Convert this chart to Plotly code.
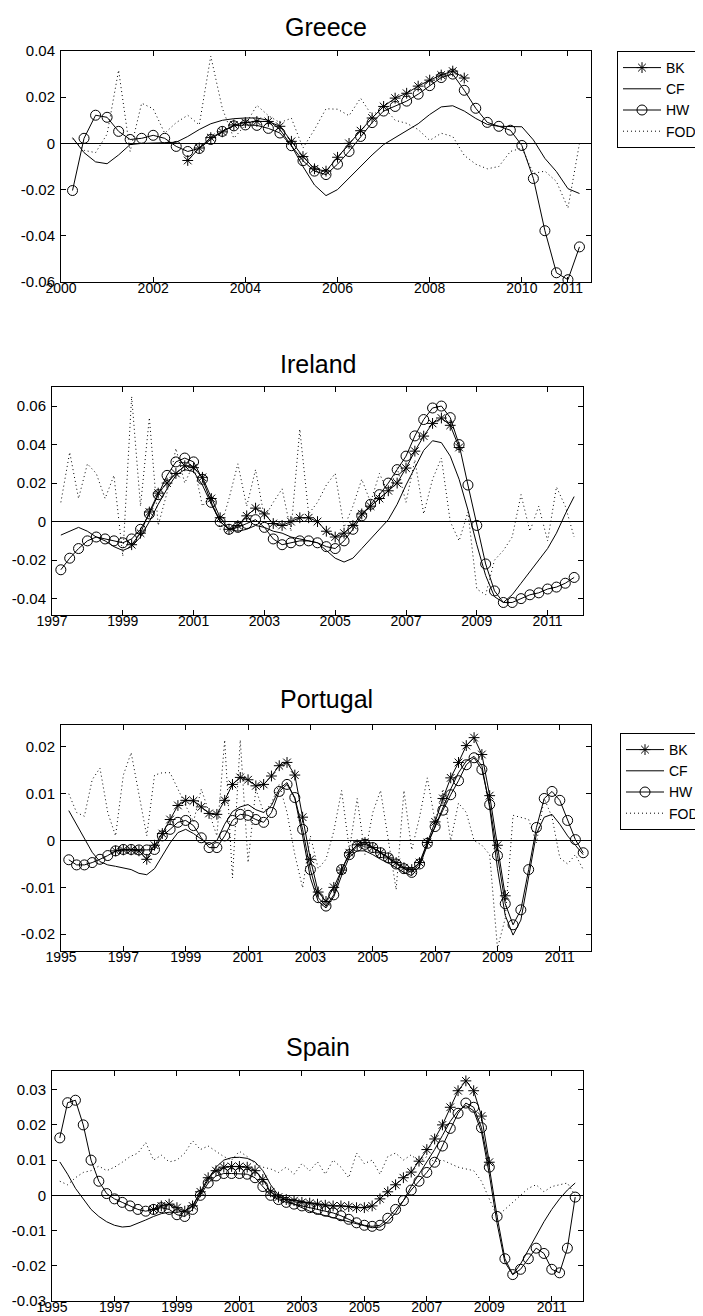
import plotly.graph_objects as go

W, H = 703, 1316

# ---------------- data (quarterly) ----------------
greece_start = 2000.25
greece_bk_start = 2002.75
greece_hw = [-0.0204, 0.0022, 0.0122, 0.0113, 0.0052, 0.0017, 0.0022, 0.0035, 0.0022, -0.0013,
             -0.0035, -0.0022, 0.0017, 0.0052, 0.0076, 0.0080, 0.0078, 0.0065, 0.0045, -0.0010,
             -0.0075, -0.0120, -0.0135, -0.0090, -0.0035, 0.0030, 0.0090, 0.0140, 0.0160, 0.0183,
             0.0213, 0.0250, 0.0285, 0.0300, 0.0230, 0.0152, 0.0091, 0.0074, 0.0057, -0.0009,
             -0.0152, -0.0378, -0.0560, -0.0590, -0.0448]
greece_bk = [-0.0074, -0.0020, 0.0025, 0.0050, 0.0080, 0.0090, 0.0095, 0.0095, 0.0074, 0.0009,
             -0.0057, -0.0110, -0.0120, -0.0060, 0.0000, 0.0055, 0.0110, 0.0160, 0.0196, 0.0217,
             0.0248, 0.0274, 0.0296, 0.0313, 0.0283]
greece_cf = [0.0025, -0.0040, -0.0080, -0.0088, -0.0050, -0.0005, 0.0000, 0.0000, 0.0003, 0.0005,
             0.0030, 0.0060, 0.0085, 0.0100, 0.0107, 0.0110, 0.0110, 0.0100, 0.0060, -0.0010,
             -0.0100, -0.0180, -0.0226, -0.0200, -0.0150, -0.0100, -0.0050, -0.0005, 0.0025, 0.0055,
             0.0085, 0.0125, 0.0158, 0.0163, 0.0140, 0.0108, 0.0082, 0.0074, 0.0074, 0.0072,
             0.0015, -0.0065, -0.0122, -0.0196, -0.0217]
greece_fod = [0.0020, -0.0030, -0.0040, 0.0040, 0.0317, -0.0035, 0.0174, 0.0150, 0.0044, 0.0090,
              0.0122, 0.0080, 0.0378, 0.0152, 0.0022, 0.0080, 0.0165, 0.0120, 0.0090, 0.0109,
              -0.0020, 0.0060, 0.0150, 0.0148, 0.0120, 0.0196, 0.0120, 0.0160, 0.0100, 0.0087,
              0.0060, 0.0013, 0.0044, 0.0030, -0.0052, -0.0090, -0.0110, -0.0100, -0.0035, -0.0020,
              -0.0130, -0.0120, -0.0165, -0.0280, 0.0000]

ireland_start = 1997.25
ireland_bk_start = 1999.25
ireland_hw = [-0.0250, -0.0190, -0.0140,
              -0.0100, -0.0080, -0.0090, -0.0100,
              -0.0110, -0.0090, -0.0040, 0.0040,
              0.0140, 0.0240, 0.0310, 0.0330,
              0.0310, 0.0220, 0.0100, 0.0000,
              -0.0040, -0.0030, -0.0010, 0.0010,
              -0.0030, -0.0090, -0.0120, -0.0110,
              -0.0100, -0.0100, -0.0110, -0.0130,
              -0.0140, -0.0100, -0.0040, 0.0030,
              0.0090, 0.0140, 0.0200, 0.0270,
              0.0340, 0.0445, 0.0530, 0.0590,
              0.0600, 0.0540, 0.0400, 0.0190,
              -0.0020, -0.0220, -0.0360, -0.0420,
              -0.0420, -0.0400, -0.0380, -0.0370,
              -0.0350, -0.0340, -0.0320, -0.0290]
ireland_bk = [-0.0120, -0.0060, 0.0050,
              0.0148, 0.0200, 0.0250, 0.0290,
              0.0280, 0.0230, 0.0120, 0.0020,
              -0.0040, -0.0020, 0.0030, 0.0070,
              0.0040, -0.0010, -0.0020, 0.0000,
              0.0020, 0.0020, 0.0000, -0.0050,
              -0.0080, -0.0060, -0.0020, 0.0040,
              0.0080, 0.0120, 0.0160, 0.0200,
              0.0278, 0.0366, 0.0444, 0.0510,
              0.0538, 0.0500, 0.0385]
ireland_cf = [-0.0070, -0.0050, -0.0030,
              -0.0050, -0.0080, -0.0100, -0.0130,
              -0.0150, -0.0130, -0.0080, 0.0000,
              0.0090, 0.0170, 0.0240, 0.0270,
              0.0260, 0.0190, 0.0090, 0.0000,
              -0.0040, -0.0050, -0.0040, -0.0020,
              -0.0030, -0.0050, -0.0060, -0.0080,
              -0.0090, -0.0100, -0.0110, -0.0150,
              -0.0190, -0.0210, -0.0190, -0.0140,
              -0.0090, -0.0040, 0.0010, 0.0090,
              0.0190, 0.0280, 0.0370, 0.0420,
              0.0410, 0.0340, 0.0220, 0.0060,
              -0.0120, -0.0280, -0.0390, -0.0420,
              -0.0380, -0.0320, -0.0260, -0.0200,
              -0.0140, -0.0060, 0.0040, 0.0130]
ireland_fod = [0.0100, 0.0360, 0.0120,
               0.0300, 0.0250, 0.0120, 0.0240,
               -0.0180, 0.0650, 0.0080, 0.0540,
               -0.0020, 0.0150, 0.0380, 0.0200,
               0.0300, 0.0080, 0.0140, -0.0040,
               0.0120, 0.0300, 0.0080, 0.0270,
               0.0020, 0.0100, 0.0170, -0.0050,
               0.0480, 0.0040, 0.0100, 0.0190,
               0.0250, -0.0030, 0.0080, 0.0220,
               0.0100, 0.0250, 0.0150, 0.0280,
               0.0100, 0.0320, 0.0040, 0.0220,
               0.0330, 0.0000, -0.0100, 0.0050,
               -0.0350, -0.0380, -0.0200, -0.0150,
               -0.0080, 0.0140, -0.0050, 0.0080,
               -0.0100, 0.0180, 0.0080, -0.0080]

portugal_start = 1995.25
portugal_bk_start = 1996.75
portugal_hw = [-0.0041, -0.0052, -0.0052,
               -0.0047, -0.0040, -0.0032, -0.0022,
               -0.0019, -0.0019, -0.0020, -0.0020,
               -0.0019, 0.0010, 0.0024, 0.0039,
               0.0043, 0.0032, 0.0006, -0.0015,
               -0.0015, 0.0010, 0.0043, 0.0056,
               0.0054, 0.0045, 0.0039, 0.0060,
               0.0105, 0.0120, 0.0092, 0.0024,
               -0.0062, -0.0122, -0.0140, -0.0116,
               -0.0062, -0.0030, -0.0012, -0.0008,
               -0.0015, -0.0026, -0.0037, -0.0050,
               -0.0060, -0.0068, -0.0050, -0.0006,
               0.0030, 0.0065, 0.0098, 0.0128,
               0.0162, 0.0177, 0.0152, 0.0077,
               -0.0032, -0.0135, -0.0180, -0.0148,
               -0.0062, 0.0028, 0.0090, 0.0105,
               0.0086, 0.0043, 0.0002, -0.0026]
portugal_bk = [-0.0022,
               -0.0020, -0.0020, -0.0022, -0.0040,
               -0.0010, 0.0015, 0.0045, 0.0075,
               0.0086, 0.0085, 0.0072, 0.0058,
               0.0056, 0.0086, 0.0120, 0.0135,
               0.0130, 0.0117, 0.0120, 0.0138,
               0.0160, 0.0167, 0.0140, 0.0050,
               -0.0040, -0.0110, -0.0130, -0.0100,
               -0.0063, -0.0026, -0.0009, -0.0004,
               -0.0015, -0.0026, -0.0037, -0.0047,
               -0.0058, -0.0062, -0.0047, -0.0004,
               0.0040, 0.0090, 0.0134, 0.0167,
               0.0203, 0.0220, 0.0184, 0.0096,
               -0.0010, -0.0118]
portugal_cf = [0.0064, 0.0035, 0.0005,
               -0.0025, -0.0045, -0.0052, -0.0055,
               -0.0058, -0.0062, -0.0070, -0.0073,
               -0.0060, -0.0033, -0.0005, 0.0017,
               0.0024, 0.0015, 0.0003, -0.0009,
               0.0000, 0.0035, 0.0062, 0.0072,
               0.0077, 0.0066, 0.0060, 0.0075,
               0.0110, 0.0124, 0.0090, 0.0010,
               -0.0080, -0.0130, -0.0144, -0.0120,
               -0.0075, -0.0035, -0.0022, -0.0022,
               -0.0030, -0.0040, -0.0048, -0.0058,
               -0.0068, -0.0075, -0.0055, -0.0010,
               0.0030, 0.0070, 0.0110, 0.0145,
               0.0170, 0.0180, 0.0160, 0.0070,
               -0.0060, -0.0160, -0.0202, -0.0170,
               -0.0080, 0.0015, 0.0050, 0.0056,
               0.0035, 0.0010, -0.0010, -0.0030]
portugal_fod = [0.0100, 0.0060, 0.0052,
                0.0130, 0.0155, 0.0060, 0.0010,
                0.0140, 0.0188, 0.0100, 0.0010,
                0.0140, 0.0145, 0.0145, 0.0110,
                0.0075, 0.0040, 0.0110, 0.0060,
                0.0010, 0.0215, -0.0080, 0.0215,
                -0.0047, 0.0110, 0.0060, 0.0080,
                0.0120, 0.0060, -0.0030, -0.0101,
                0.0010, -0.0060, -0.0040, 0.0020,
                0.0107, -0.0020, 0.0090, -0.0030,
                0.0060, 0.0107, 0.0000, -0.0105,
                0.0107, -0.0020, 0.0050, 0.0134,
                0.0040, 0.0110, 0.0000, 0.0080,
                0.0060, 0.0000, -0.0010, -0.0030,
                -0.0230, -0.0166, 0.0054, 0.0050,
                0.0045, -0.0005, 0.0090, 0.0050,
                -0.0037, -0.0050, -0.0030, -0.0062]

spain_start = 1995.25
spain_bk_start = 1998.25
spain_hw = [0.0163, 0.0263, 0.0270,
            0.0200, 0.0100, 0.0040, 0.0005,
            -0.0010, -0.0020, -0.0030, -0.0040,
            -0.0045, -0.0040, -0.0035, -0.0040,
            -0.0055, -0.0060, -0.0040, 0.0000,
            0.0035, 0.0055, 0.0062, 0.0062,
            0.0062, 0.0060, 0.0050, 0.0025,
            0.0000, -0.0012, -0.0020, -0.0025,
            -0.0030, -0.0035, -0.0040, -0.0045,
            -0.0050, -0.0058, -0.0068, -0.0078,
            -0.0085, -0.0088, -0.0085, -0.0065,
            -0.0040, -0.0015, 0.0015, 0.0040,
            0.0065, 0.0094, 0.0140, 0.0190,
            0.0233, 0.0262, 0.0250, 0.0192,
            0.0080, -0.0060, -0.0180, -0.0225,
            -0.0210, -0.0180, -0.0150, -0.0165,
            -0.0210, -0.0220, -0.0150, -0.0005]
spain_bk = [-0.0040, -0.0030, -0.0025,
            -0.0035, -0.0045, -0.0030, 0.0010,
            0.0050, 0.0070, 0.0080, 0.0082,
            0.0082, 0.0080, 0.0070, 0.0045,
            0.0010, -0.0005, -0.0012, -0.0015,
            -0.0020, -0.0022, -0.0025, -0.0028,
            -0.0030, -0.0030, -0.0032, -0.0035,
            -0.0035, -0.0030, -0.0010, 0.0010,
            0.0030, 0.0050, 0.0066, 0.0097,
            0.0130, 0.0160, 0.0200, 0.0250,
            0.0297, 0.0325, 0.0297, 0.0225,
            0.0094]
spain_cf = [0.0095, 0.0060, 0.0020,
            -0.0010, -0.0040, -0.0060, -0.0075,
            -0.0085, -0.0090, -0.0088, -0.0080,
            -0.0070, -0.0060, -0.0052, -0.0048,
            -0.0048, -0.0045, -0.0030, 0.0005,
            0.0045, 0.0080, 0.0100, 0.0107,
            0.0108, 0.0105, 0.0095, 0.0070,
            0.0030, 0.0000, -0.0015, -0.0025,
            -0.0035, -0.0045, -0.0052, -0.0058,
            -0.0063, -0.0070, -0.0075, -0.0082,
            -0.0088, -0.0092, -0.0090, -0.0075,
            -0.0050, -0.0015, 0.0025, 0.0060,
            0.0095, 0.0130, 0.0170, 0.0210,
            0.0240, 0.0255, 0.0240, 0.0180,
            0.0060, -0.0080, -0.0190, -0.0225,
            -0.0195, -0.0155, -0.0115, -0.0075,
            -0.0040, -0.0010, 0.0015, 0.0035]
spain_fod = [0.0040, 0.0030, 0.0050,
             0.0065, 0.0070, 0.0083, 0.0070,
             0.0080, 0.0094, 0.0110, 0.0120,
             0.0150, 0.0100, 0.0114, 0.0095,
             0.0100, 0.0120, 0.0155, 0.0130,
             0.0140, 0.0125, 0.0110, 0.0100,
             0.0125, 0.0110, 0.0090, 0.0080,
             0.0075, 0.0065, 0.0080, 0.0060,
             0.0090, 0.0070, 0.0095, 0.0060,
             0.0100, 0.0080, 0.0050, 0.0120,
             0.0090, 0.0100, 0.0060, 0.0110,
             0.0120, 0.0100, 0.0115, 0.0095,
             0.0110, 0.0095, 0.0100, 0.0090,
             0.0080, 0.0075, 0.0070, 0.0040,
             -0.0010, -0.0060, -0.0040, -0.0020,
             0.0000, 0.0020, 0.0030, 0.0010,
             0.0025, 0.0030, 0.0035, 0.0000]

series_names = ["BK", "CF", "HW", "FOD"]

greece_xticks = [2000, 2002, 2004, 2006, 2008, 2010, 2011]
odd_year_ticks = [1995, 1997, 1999, 2001, 2003, 2005, 2007, 2009, 2011]
ireland_xticks = [1997, 1999, 2001, 2003, 2005, 2007, 2009, 2011]
greece_yticks = [-0.06, -0.04, -0.02, 0, 0.02, 0.04]
ireland_yticks = [-0.04, -0.02, 0, 0.02, 0.04, 0.06]
portugal_yticks = [-0.02, -0.01, 0, 0.01, 0.02]
spain_yticks = [-0.03, -0.02, -0.01, 0, 0.01, 0.02, 0.03]


def qx(start, n):
    return [start + 0.25 * i for i in range(n)]


FONT = "Liberation Sans, Arial, sans-serif"

panels = [
    dict(name="Greece", start=greece_start, bk_start=greece_bk_start,
         bk=greece_bk, cf=greece_cf, hw=greece_hw, fod=greece_fod,
         xr=[2000, 2011.5], yr=[-0.06, 0.04], xt=greece_xticks, yt=greece_yticks,
         px=(53, 583), py=(43, 274), title_y=19, legend="legend"),
    dict(name="Ireland", start=ireland_start, bk_start=ireland_bk_start,
         bk=ireland_bk, cf=ireland_cf, hw=ireland_hw, fod=ireland_fod,
         xr=[1997, 2012], yr=[-0.0485, 0.0699], xt=ireland_xticks, yt=ireland_yticks,
         px=(44, 575), py=(379, 607), title_y=356, legend=None),
    dict(name="Portugal", start=portugal_start, bk_start=portugal_bk_start,
         bk=portugal_bk, cf=portugal_cf, hw=portugal_hw, fod=portugal_fod,
         xr=[1995, 2012], yr=[-0.0236, 0.0247], xt=odd_year_ticks, yt=portugal_yticks,
         px=(53, 583), py=(717, 943), title_y=691, legend="legend2"),
    dict(name="Spain", start=spain_start, bk_start=spain_bk_start,
         bk=spain_bk, cf=spain_cf, hw=spain_hw, fod=spain_fod,
         xr=[1995, 2012], yr=[-0.03, 0.0353], xt=odd_year_ticks, yt=spain_yticks,
         px=(44, 575), py=(1063, 1293), title_y=1039, legend=None),
]

fig = go.Figure()
layout = dict(
    width=W, height=H,
    margin=dict(l=0, r=0, t=0, b=0, autoexpand=False),
    paper_bgcolor="white", plot_bgcolor="white",
    font=dict(family=FONT, size=15, color="black"),
    annotations=[],
)


def ylabel(v):
    if v == 0:
        return "0"
    return "%.2f" % v


for i, p in enumerate(panels):
    k = "" if i == 0 else str(i + 1)
    xa, ya = "x" + k, "y" + k
    showleg = p["legend"] is not None
    common = dict(xaxis=xa, yaxis=ya, showlegend=showleg)
    if showleg:
        common["legend"] = p["legend"]
    line = dict(color="black", width=1)
    fig.add_trace(go.Scatter(x=qx(p["bk_start"], len(p["bk"])), y=p["bk"], name="BK",
                             mode="lines+markers", line=line,
                             marker=dict(symbol="asterisk-open", size=9, color="black",
                                         line=dict(color="black", width=1)), **common))
    fig.add_trace(go.Scatter(x=qx(p["start"], len(p["cf"])), y=p["cf"], name="CF",
                             mode="lines", line=line, **common))
    fig.add_trace(go.Scatter(x=qx(p["start"], len(p["hw"])), y=p["hw"], name="HW",
                             mode="lines+markers", line=line,
                             marker=dict(symbol="circle-open", size=10, color="black",
                                         line=dict(color="black", width=1)), **common))
    fig.add_trace(go.Scatter(x=qx(p["start"], len(p["fod"])), y=p["fod"], name="FOD",
                             mode="lines", line=dict(color="black", width=1, dash="1px,3px"),
                             **common))

    x0, x1 = p["px"]
    y0, y1 = p["py"]
    layout["xaxis" + k] = dict(
        domain=[x0 / W, x1 / W], range=p["xr"], anchor=ya,
        tickmode="array", tickvals=p["xt"], ticktext=[str(t) for t in p["xt"]],
        ticks="inside", ticklen=5, tickcolor="black", tickwidth=1,
        showline=True, linecolor="black", linewidth=1, mirror="ticks",
        showgrid=False, zeroline=False, ticklabelstandoff=-7,
        tickfont=dict(family=FONT, size=14, color="black"),
    )
    layout["yaxis" + k] = dict(
        domain=[1 - y1 / H, 1 - y0 / H], range=p["yr"], anchor=xa,
        tickmode="array", tickvals=p["yt"], ticktext=[ylabel(t) for t in p["yt"]],
        ticks="inside", ticklen=5, tickcolor="black", tickwidth=1,
        showline=True, linecolor="black", linewidth=1, mirror="ticks",
        showgrid=False, zeroline=True, zerolinecolor="black", zerolinewidth=1,
        ticklabelstandoff=2,
        tickfont=dict(family=FONT, size=15, color="black"),
    )
    layout["annotations"].append(dict(
        text=p["name"], xref="paper", yref="paper",
        x=(x0 + x1) / 2 / W, y=1 - p["title_y"] / H,
        xanchor="center", yanchor="middle", showarrow=False,
        font=dict(family=FONT, size=25, color="black"),
    ))

leg_common = dict(
    xanchor="left", yanchor="top", bgcolor="white",
    bordercolor="black", borderwidth=1,
    font=dict(family=FONT, size=14, color="black"),
    itemwidth=38, tracegroupgap=0, itemclick=False, itemdoubleclick=False,
)
layout["legend"] = dict(x=609 / W, y=1 - 43 / H, **leg_common)
layout["legend2"] = dict(x=612 / W, y=1 - 725 / H, **leg_common)

fig.update_layout(**layout)
fig.write_html("out.html")
